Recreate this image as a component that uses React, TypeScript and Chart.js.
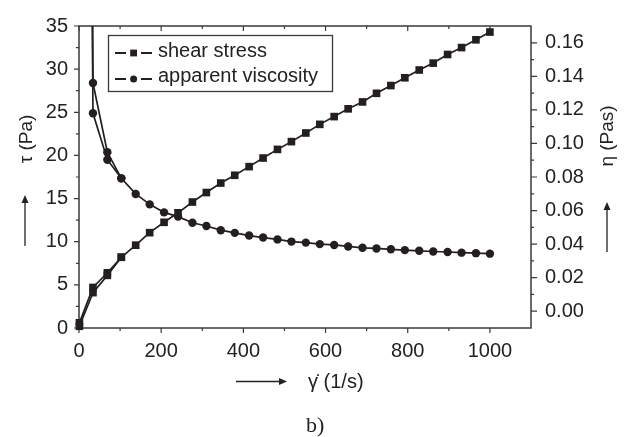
import React, { useEffect, useRef } from 'react';
import { Chart, registerables } from 'chart.js';

Chart.register(...registerables);

// ---- data ----
const SHEAR_RATE = [1, 34, 69, 103, 138, 172, 207, 241, 276, 310, 345, 379, 414, 448, 483, 517, 552, 586, 621, 655, 690, 724, 759, 793, 828, 862, 897, 931, 966, 1000];
const SHEAR_STRESS = [0.6, 4.7, 6.4, 8.2, 9.6, 11.05, 12.25, 13.35, 14.6, 15.7, 16.8, 17.7, 18.7, 19.7, 20.7, 21.6, 22.6, 23.6, 24.5, 25.4, 26.2, 27.2, 28.1, 29.0, 29.9, 30.7, 31.7, 32.5, 33.4, 34.3];
const VISCOSITY = [1.6, 0.136, 0.0948, 0.0792, 0.0699, 0.0637, 0.0589, 0.0564, 0.0527, 0.0508, 0.0483, 0.0467, 0.0451, 0.0439, 0.0428, 0.0415, 0.0409, 0.0400, 0.0395, 0.0386, 0.0378, 0.0374, 0.0369, 0.0364, 0.0360, 0.0356, 0.0353, 0.0349, 0.0346, 0.0343];
const SHEAR_RATE_RUN2 = [1, 34, 69, 103];
const SHEAR_STRESS_RUN2 = [0.2, 4.1, 6.1, 8.2];
const VISCOSITY_RUN2 = [1.2, 0.118, 0.0903, 0.0792];

const X_TICKS = [0, 200, 400, 600, 800, 1000];
const LEFT_TICKS = [0, 5, 10, 15, 20, 25, 30, 35];
const RIGHT_TICKS = [0, 0.02, 0.04, 0.06, 0.08, 0.1, 0.12, 0.14, 0.16];
const LEGEND_LABELS = ['shear stress', 'apparent viscosity'];
const X_TITLE = 'γ̇ (1/s)';
const LEFT_TITLE = 'τ (Pa)';
const RIGHT_TITLE = 'η (Pas)';
const CAPTION = 'b)';

const INK = '#231f20';
const AXIS = '#3a3a3a';
const SANS = "Arial, 'Liberation Sans', sans-serif";
const SERIF = "'Times New Roman', 'Liberation Serif', serif";

const pts = (xs: number[], ys: number[]) => xs.map((x, i) => ({ x, y: ys[i] }));

function arrow(ctx: CanvasRenderingContext2D, x1: number, y1: number, x2: number, y2: number) {
  const ang = Math.atan2(y2 - y1, x2 - x1);
  const hl = 8, hw = 3.5;
  ctx.beginPath();
  ctx.moveTo(x1, y1);
  ctx.lineTo(x2 - hl * Math.cos(ang), y2 - hl * Math.sin(ang));
  ctx.stroke();
  ctx.beginPath();
  ctx.moveTo(x2, y2);
  ctx.lineTo(x2 - hl * Math.cos(ang) + hw * Math.sin(ang), y2 - hl * Math.sin(ang) - hw * Math.cos(ang));
  ctx.lineTo(x2 - hl * Math.cos(ang) - hw * Math.sin(ang), y2 - hl * Math.sin(ang) + hw * Math.cos(ang));
  ctx.closePath();
  ctx.fill();
}

const framePlugin = {
  id: 'frame',
  beforeDatasetsDraw(chart: any) {
    const { ctx, chartArea: a, scales } = chart;
    ctx.save();
    ctx.strokeStyle = AXIS;
    ctx.lineWidth = 1.5;
    ctx.strokeRect(a.left, a.top, a.right - a.left, a.bottom - a.top);
    ctx.lineWidth = 1.2;
    ctx.beginPath();
    // left axis ticks (outward)
    for (let i = 0; i <= 14; i++) {
      const v = i * 2.5;
      const y = scales.y.getPixelForValue(v);
      const len = i % 2 === 0 ? 5 : 3;
      ctx.moveTo(a.left, y);
      ctx.lineTo(a.left - len, y);
    }
    // right axis ticks (outward)
    for (let i = 0; i <= 16; i++) {
      const y = scales.y1.getPixelForValue(i * 0.01);
      const len = i % 2 === 0 ? 6 : 3;
      ctx.moveTo(a.right, y);
      ctx.lineTo(a.right + len, y);
    }
    // bottom (outward) and top (inward)
    for (let i = 0; i <= 10; i++) {
      const x = scales.x.getPixelForValue(i * 100);
      const len = i % 2 === 0 ? 5 : 3;
      ctx.moveTo(x, a.bottom);
      ctx.lineTo(x, a.bottom + len);
      ctx.moveTo(x, a.top);
      ctx.lineTo(x, a.top + len);
    }
    ctx.stroke();
    ctx.restore();
  },
  afterDraw(chart: any) {
    const { ctx } = chart;
    ctx.save();

    // legend box
    ctx.strokeStyle = AXIS;
    ctx.lineWidth = 1.3;
    ctx.strokeRect(108.5, 35.5, 224, 56);
    ctx.strokeStyle = INK;
    ctx.fillStyle = INK;
    ctx.lineWidth = 1.8;
    const rows = [53, 79];
    rows.forEach((ry, i) => {
      ctx.beginPath();
      ctx.moveTo(115, ry); ctx.lineTo(126, ry);
      ctx.moveTo(141, ry); ctx.lineTo(152, ry);
      ctx.stroke();
      if (i === 0) {
        ctx.fillRect(130.2, ry - 3.4, 6.8, 6.8);
      } else {
        ctx.beginPath();
        ctx.arc(133.6, ry, 3.5, 0, Math.PI * 2);
        ctx.fill();
      }
    });
    ctx.fillStyle = '#222';
    ctx.font = `20px ${SANS}`;
    ctx.textAlign = 'left';
    ctx.textBaseline = 'alphabetic';
    ctx.fillText(LEGEND_LABELS[0], 158, 57);
    ctx.fillText(LEGEND_LABELS[1], 158, 82);

    // axis titles
    ctx.font = `19px ${SANS}`;
    ctx.textAlign = 'center';
    ctx.textBaseline = 'middle';
    ctx.save();
    ctx.translate(27, 139);
    ctx.rotate(-Math.PI / 2);
    ctx.fillText(LEFT_TITLE, 0, 0);
    ctx.restore();
    ctx.save();
    ctx.translate(608, 136);
    ctx.rotate(-Math.PI / 2);
    ctx.fillText(RIGHT_TITLE, 0, 0);
    ctx.restore();

    ctx.font = `20px ${SANS}`;
    ctx.textAlign = 'left';
    ctx.fillText(X_TITLE, 308, 382);

    ctx.font = `22px ${SERIF}`;
    ctx.fillText(CAPTION, 306, 426);

    // arrows
    ctx.strokeStyle = '#222';
    ctx.fillStyle = '#222';
    ctx.lineWidth = 1.3;
    arrow(ctx, 25, 246, 25, 195);
    arrow(ctx, 607, 252, 607, 202);
    arrow(ctx, 236, 381.5, 287, 381.5);
    ctx.restore();
  },
};

export default function App() {
  const ref = useRef<HTMLCanvasElement | null>(null);

  useEffect(() => {
    document.body.style.margin = '0';
    document.body.style.overflow = 'hidden';
    const canvas = ref.current!;
    const lineCommon = {
      borderColor: INK,
      backgroundColor: INK,
      pointBackgroundColor: INK,
      pointBorderColor: INK,
      pointBorderWidth: 0,
      borderWidth: 1.7,
      tension: 0,
      showLine: true,
    };
    const stressStyle = { ...lineCommon, yAxisID: 'y', pointStyle: 'rect', pointRadius: 5.4, clip: false };
    const viscStyle = { ...lineCommon, yAxisID: 'y1', pointStyle: 'circle', pointRadius: 4.2, clip: { left: 8, top: 0, right: 8, bottom: 8 } };

    const chart = new Chart(canvas, {
      type: 'scatter',
      data: {
        datasets: [
          { label: LEGEND_LABELS[0], data: pts(SHEAR_RATE_RUN2, SHEAR_STRESS_RUN2), ...stressStyle },
          { label: LEGEND_LABELS[0], data: pts(SHEAR_RATE, SHEAR_STRESS), ...stressStyle },
          { label: LEGEND_LABELS[1], data: pts(SHEAR_RATE_RUN2, VISCOSITY_RUN2), ...viscStyle },
          { label: LEGEND_LABELS[1], data: pts(SHEAR_RATE, VISCOSITY), ...viscStyle },
        ] as any,
      },
      options: {
        animation: false,
        responsive: false,
        maintainAspectRatio: false,
        layout: { padding: { top: 19, left: 0, right: 0, bottom: 0 } },
        plugins: { legend: { display: false }, tooltip: { enabled: false }, title: { display: false } },
        scales: {
          x: {
            type: 'linear',
            position: 'bottom',
            min: 0,
            max: 1100,
            grid: { display: false, drawTicks: false },
            border: { display: false },
            afterBuildTicks: (s: any) => { s.ticks = X_TICKS.map((v) => ({ value: v })); },
            afterFit: (s: any) => { s.height = 437 - 328; },
            ticks: { padding: 11.5, color: '#222', font: { family: SANS, size: 20 }, maxRotation: 0, autoSkip: false, callback: (v: any) => String(v) },
          },
          y: {
            type: 'linear',
            position: 'left',
            min: 0,
            max: 35,
            grid: { display: false, drawTicks: false },
            border: { display: false },
            afterBuildTicks: (s: any) => { s.ticks = LEFT_TICKS.map((v) => ({ value: v })); },
            afterFit: (s: any) => { s.width = 79; },
            ticks: { padding: 11, color: '#222', font: { family: SANS, size: 20 }, autoSkip: false, callback: (v: any) => String(v) },
          },
          y1: {
            type: 'linear',
            position: 'right',
            min: -0.01,
            max: 0.17,
            grid: { display: false, drawTicks: false },
            border: { display: false },
            afterBuildTicks: (s: any) => { s.ticks = RIGHT_TICKS.map((v) => ({ value: v })); },
            afterFit: (s: any) => { s.width = 627 - 531; },
            ticks: { padding: 14, color: '#222', font: { family: SANS, size: 20 }, autoSkip: false, callback: (v: any) => Number(v).toFixed(2) },
          },
        },
      } as any,
      plugins: [framePlugin],
    });
    return () => chart.destroy();
  }, []);

  return (
    <div style={{ width: 627, height: 437 }}>
      <canvas ref={ref} width={627} height={437} style={{ display: 'block', width: 627, height: 437 }} />
    </div>
  );
}
